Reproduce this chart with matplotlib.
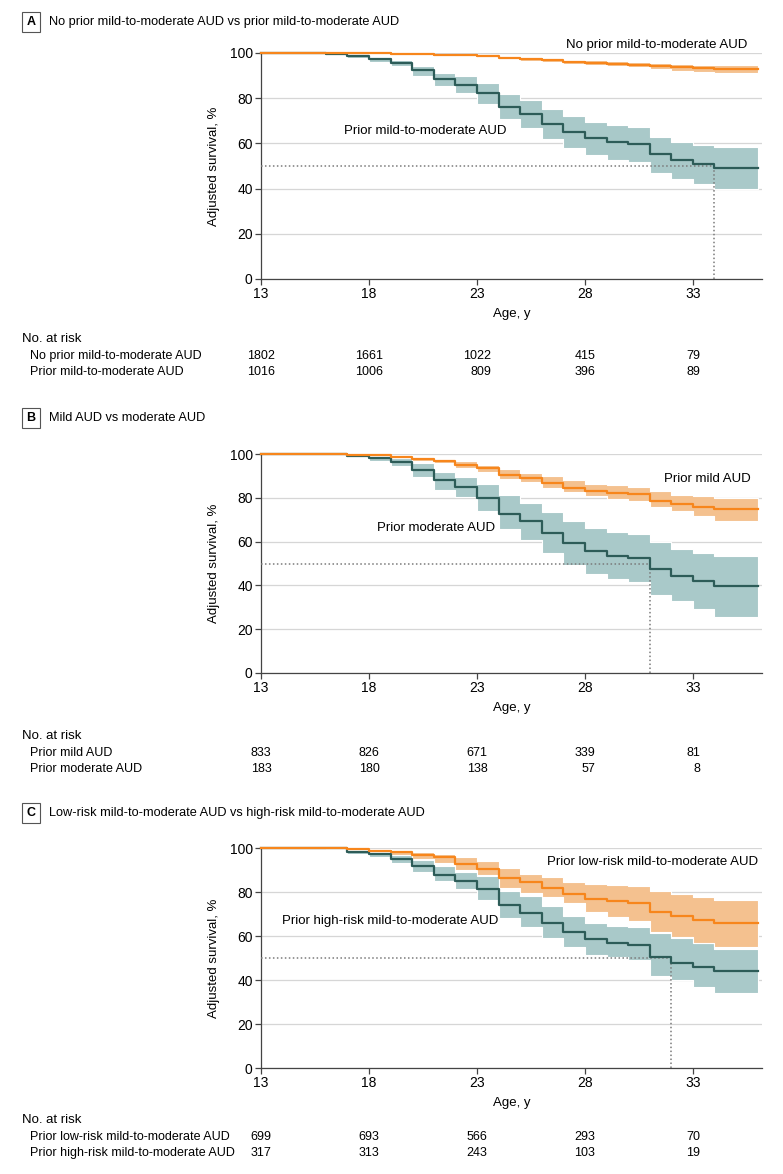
import matplotlib
matplotlib.use('Agg')
import matplotlib.pyplot as plt
import matplotlib.transforms as mtransforms
import numpy as np

plt.rcParams['font.family'] = ['Liberation Sans', 'DejaVu Sans']

# yearly steps (ages 13..35, curves run to 36)
ages = np.arange(13, 36)
age_ticks = [13, 18, 23, 28, 33]

# Panel A
a_none = [100, 100, 100, 99.95, 99.9, 99.8, 99.7, 99.5, 99.3, 99.0, 98.6, 97.9, 97.3, 96.8, 96.2, 95.7, 95.3, 94.9, 94.1, 93.6, 93.2, 92.8, 92.8]
a_none_lo = [100, 100, 100, 99.9, 99.8, 99.6, 99.5, 99.2, 98.9, 98.6, 98.1, 97.3, 96.6, 96.0, 95.3, 94.7, 94.2, 93.7, 92.7, 92.1, 91.6, 91.2, 91.2]
a_none_hi = [100, 100, 100, 100, 100, 100, 99.9, 99.8, 99.6, 99.4, 99.1, 98.5, 98.0, 97.6, 97.1, 96.7, 96.4, 96.1, 95.5, 95.1, 94.8, 94.5, 94.5]
a_prior = [100, 100, 100, 99.7, 98.5, 97.2, 95.7, 92.4, 88.4, 86.0, 82.4, 76.2, 72.9, 68.5, 65.1, 62.2, 60.4, 59.7, 55.1, 52.6, 50.9, 49.0, 49.0]
a_prior_lo = [100, 100, 100, 99.4, 97.9, 96.2, 94.1, 89.7, 85.3, 82.1, 77.6, 70.6, 66.9, 61.8, 57.8, 54.9, 52.6, 51.9, 46.8, 44.3, 42.1, 39.9, 39.9]
a_prior_hi = [100, 100, 100, 100, 99.1, 98.2, 96.8, 94.1, 91.2, 89.7, 86.8, 81.8, 79.4, 75.4, 72.1, 69.6, 68.1, 67.4, 62.9, 60.7, 59.3, 58.2, 58.2]
a_median = 34
a_names = ['No prior mild-to-moderate AUD', 'Prior mild-to-moderate AUD']
a_risk = [[1802, 1661, 1022, 415, 79], [1016, 1006, 809, 396, 89]]

# Panel B
b_mild = [100, 100, 100, 100, 99.7, 99.4, 98.8, 97.8, 96.9, 95.1, 93.5, 90.5, 89.1, 86.8, 84.6, 83.2, 82.3, 81.6, 78.7, 77.3, 75.8, 74.7, 74.7]
b_mild_lo = [100, 100, 100, 100, 99.4, 99.0, 98.1, 96.7, 95.8, 93.5, 92.0, 88.8, 87.0, 84.6, 82.6, 80.6, 79.6, 78.7, 75.8, 74.0, 71.8, 69.6, 69.6]
b_mild_hi = [100, 100, 100, 100, 100, 99.8, 99.4, 98.8, 97.8, 96.9, 95.0, 93.2, 91.4, 89.8, 88.0, 86.5, 85.8, 85.1, 82.9, 81.4, 80.6, 79.9, 79.9]
b_mod = [100, 100, 100, 100, 99.1, 98.2, 96.5, 92.9, 88.0, 85.1, 79.9, 72.8, 69.3, 64.0, 59.3, 55.6, 53.3, 52.3, 47.5, 44.2, 41.9, 39.6, 39.6]
b_mod_lo = [100, 100, 100, 100, 98.5, 96.9, 94.4, 89.7, 83.6, 80.2, 74.0, 65.9, 60.7, 54.8, 49.2, 45.3, 42.7, 41.6, 35.4, 33.0, 29.0, 25.6, 25.6]
b_mod_hi = [100, 100, 100, 100, 99.6, 99.1, 98.1, 95.9, 92.0, 89.5, 86.1, 81.1, 77.7, 73.3, 69.3, 66.3, 64.4, 63.4, 59.6, 56.6, 54.8, 53.4, 53.4]
b_median = 31
b_names = ['Prior mild AUD', 'Prior moderate AUD']
b_risk = [[833, 826, 671, 339, 81], [183, 180, 138, 57, 8]]

# Panel C
c_low = [100, 100, 100, 99.9, 99.4, 98.8, 98.0, 97.0, 95.8, 92.7, 90.6, 86.4, 84.5, 81.9, 79.0, 76.7, 75.7, 74.8, 71.0, 69.3, 67.3, 66.0, 66.0]
c_low_lo = [100, 100, 100, 99.7, 98.9, 98.0, 96.8, 95.2, 93.1, 90.1, 87.6, 81.9, 79.7, 77.8, 74.8, 71.0, 68.5, 67.0, 61.8, 59.6, 57.0, 55.1, 55.1]
c_low_hi = [100, 100, 100, 100, 99.8, 99.4, 99.0, 98.4, 97.2, 95.7, 94.2, 90.9, 88.2, 86.7, 84.6, 83.7, 83.0, 82.7, 80.4, 79.0, 77.8, 76.3, 76.3]
c_high = [100, 100, 99.9, 99.8, 98.2, 97.1, 95.1, 91.6, 87.9, 85.2, 81.2, 74.2, 70.4, 65.8, 61.8, 58.5, 56.9, 55.8, 50.3, 47.9, 45.8, 43.9, 43.9]
c_high_lo = [100, 100, 99.8, 99.5, 97.5, 96.0, 93.4, 89.0, 84.9, 81.2, 76.3, 68.2, 64.0, 59.3, 54.8, 51.3, 50.6, 49.1, 41.9, 40.1, 36.9, 34.2, 34.2]
c_high_hi = [100, 100, 100, 100, 98.8, 98.1, 97.1, 94.6, 91.6, 89.0, 87.2, 80.4, 78.2, 73.7, 69.3, 66.0, 64.5, 64.0, 61.3, 59.3, 56.6, 53.9, 53.9]
c_median = 32
c_names = ['Prior low-risk mild-to-moderate AUD', 'Prior high-risk mild-to-moderate AUD']
c_risk = [[699, 693, 566, 293, 70], [317, 313, 243, 103, 19]]

ORANGE = '#f7861c'
ORANGE_CI = '#f4c18f'
TEAL = '#2d5c58'
TEAL_CI = '#a9c9c9'
FS = 9.5

W, H = 783, 1174
fig = plt.figure(figsize=(W / 100, H / 100), dpi=100)


def fy(px):
    return 1 - px / H


def make_axes(bottom_px, top_px):
    ax = fig.add_axes([261 / W, fy(bottom_px), (762 - 261) / W, (bottom_px - top_px) / H])
    ax.set_xlim(13, 36.2)
    ax.set_ylim(0, 100)
    ax.set_xticks(age_ticks)
    ax.set_yticks(range(0, 101, 20))
    ax.spines[['top', 'right']].set_visible(False)
    for s in ['left', 'bottom']:
        ax.spines[s].set_color('#444444')
        ax.spines[s].set_linewidth(0.9)
    ax.tick_params(length=4, width=0.9, color='#444444', labelsize=10, pad=2)
    ax.yaxis.grid(True, color='#d6d6d6', lw=0.9)
    ax.set_axisbelow(True)
    ax.set_ylabel('Adjusted survival, %', fontsize=FS, labelpad=7)
    ax.set_xlabel('Age, y', fontsize=FS, labelpad=5)
    return ax


def draw_curve(ax, est, lo, hi, line_c, band_c, z):
    x = np.append(ages, 36)
    ax.fill_between(x, np.append(lo, lo[-1]), np.append(hi, hi[-1]), step='post',
                    facecolor=band_c, edgecolor='white', lw=0.8, zorder=z)
    ax.step(x, np.append(est, est[-1]), where='post', color=line_c, lw=1.6,
            zorder=z + 3, clip_on=False)


def draw_median(ax, med):
    ax.plot([13, med], [50, 50], ls=(0, (1, 1.6)), color='#7a7a7a', lw=1.1, zorder=3)
    ax.plot([med, med], [0, 50], ls=(0, (1, 1.6)), color='#7a7a7a', lw=1.1, zorder=3)


def header(y_px, letter, title):
    fig.text(31 / W, fy(y_px), letter, ha='center', va='center', fontsize=9, fontweight='bold',
             bbox=dict(boxstyle='square,pad=0.35', fc='white', ec='#555555', lw=0.8))
    fig.text(49 / W, fy(y_px), title, ha='left', va='center', fontsize=9.2)


def risk_table(ax, y_px, names, counts):
    fig.text(22 / W, fy(y_px), 'No. at risk', va='center', fontsize=FS)
    rows = [y_px + 17, y_px + 33]
    for name, ry in zip(names, rows):
        fig.text(30 / W, fy(ry), name, va='center', fontsize=9)
    base = mtransforms.blended_transform_factory(ax.transData, fig.transFigure)
    for j, t in enumerate(age_ticks):
        ndig = max(len(str(r[j])) for r in counts)
        tr = mtransforms.offset_copy(base, fig=fig, x=ndig * 3.5, units='dots')
        for r, ry in zip(counts, rows):
            ax.text(t, fy(ry), str(r[j]), transform=tr, ha='right', va='center', fontsize=9)


# A
header(22, 'A', 'No prior mild-to-moderate AUD vs prior mild-to-moderate AUD')
ax = make_axes(279, 53)
draw_curve(ax, a_prior, a_prior_lo, a_prior_hi, TEAL, TEAL_CI, 1)
draw_curve(ax, a_none, a_none_lo, a_none_hi, ORANGE, ORANGE_CI, 2)
draw_median(ax, a_median)
ax.text(35.5, 103.5, a_names[0], ha='right', va='center', fontsize=FS, clip_on=False)
ax.text(16.85, 65.4, a_names[1], ha='left', va='center', fontsize=FS)
risk_table(ax, 339, a_names, a_risk)

# B
header(418, 'B', 'Mild AUD vs moderate AUD')
ax = make_axes(673, 454)
draw_curve(ax, b_mod, b_mod_lo, b_mod_hi, TEAL, TEAL_CI, 1)
draw_curve(ax, b_mild, b_mild_lo, b_mild_hi, ORANGE, ORANGE_CI, 2)
draw_median(ax, b_median)
ax.text(35.7, 88.5, b_names[0], ha='right', va='center', fontsize=FS)
ax.text(18.35, 66, b_names[1], ha='left', va='center', fontsize=FS)
risk_table(ax, 736, b_names, b_risk)

# C
header(813, 'C', 'Low-risk mild-to-moderate AUD vs high-risk mild-to-moderate AUD')
ax = make_axes(1068, 848)
draw_curve(ax, c_high, c_high_lo, c_high_hi, TEAL, TEAL_CI, 1)
draw_curve(ax, c_low, c_low_lo, c_low_hi, ORANGE, ORANGE_CI, 2)
draw_median(ax, c_median)
ax.text(36.0, 93.6, c_names[0], ha='right', va='center', fontsize=FS)
ax.text(13.95, 66.6, c_names[1], ha='left', va='center', fontsize=FS)
risk_table(ax, 1120, c_names, c_risk)

fig.savefig('out.png', dpi=100)
